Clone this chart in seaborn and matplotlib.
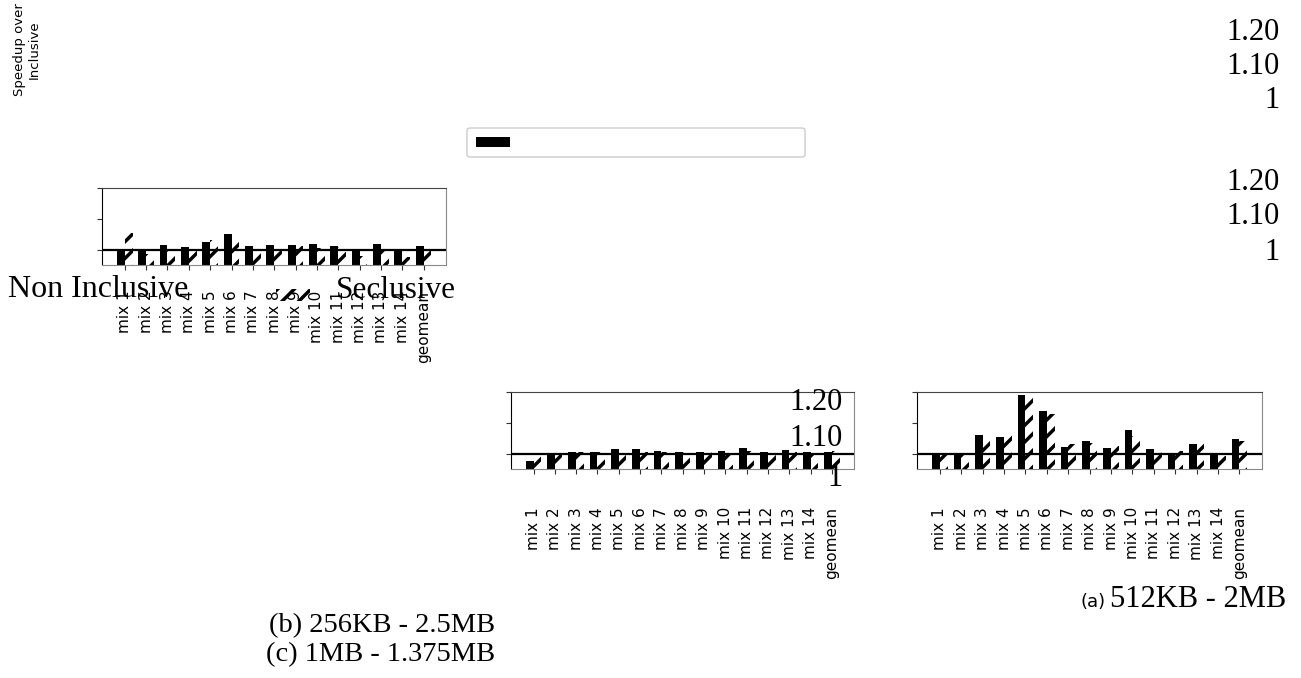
"""
speedup over inclusive, three cache configs
"""

import matplotlib.pyplot as plt
import pandas as pd
import seaborn as sns
from matplotlib.patches import FancyBboxPatch, Rectangle

# data
mixes = [f"mix {i}" for i in range(1, 15)] + ["geomean"]
configs = ["Non Inclusive", "Seclusive"]

leftNonInclusive = [1.0, 1.0, 1.014, 1.008, 1.024, 1.05, 1.012, 1.016, 1.016, 1.019, 1.013, 1.0, 1.019, 1.0, 1.012]
leftSeclusive = [1.053, 0.985, 1.0, 1.004, 1.03, 1.033, 1.0, 1.016, 1.013, 1.005, 1.01, 0.98, 1.0, 0.975, 1.015]

midNonInclusive = [0.976, 1.003, 1.006, 1.006, 1.015, 1.015, 1.009, 1.006, 1.006, 1.009, 1.017, 1.006, 1.012, 1.006, 1.006]
midSeclusive = [1.006, 0.998, 1.005, 1.006, 1.006, 1.006, 1.006, 1.006, 1.008, 1.003, 1.008, 1.003, 1.006, 1.0, 1.008]

rightNonInclusive = [1.0, 1.003, 1.06, 1.054, 1.19, 1.138, 1.021, 1.041, 1.019, 1.076, 1.016, 1.0, 1.032, 1.0, 1.046]
rightSeclusive = [1.003, 0.998, 1.05, 1.062, 1.18, 1.13, 1.03, 1.035, 1.025, 1.057, 1.01, 1.008, 1.03, 0.992, 1.04]

yTicks = [1.0, 1.1, 1.2]
sideLabels = ["1.20", "1.10", "1"]

W, H = 1301, 678
SERIF = "Liberation Serif"


def px(x, y):
    return x / W, 1 - y / H


def frame(nonIncl, secl):
    return pd.DataFrame(
        {
            "mix": mixes * 2,
            "config": [configs[0]] * len(mixes) + [configs[1]] * len(mixes),
            "speedup": list(nonIncl) + list(secl),
        }
    )


plt.rcParams["hatch.linewidth"] = 2.5
fig = plt.figure(figsize=(W / 100, H / 100), dpi=100)


def panel(rect, nonIncl, secl, labelPad):
    ax = fig.add_axes(rect)
    sns.barplot(
        data=frame(nonIncl, secl),
        x="mix",
        y="speedup",
        hue="config",
        hue_order=configs,
        palette=["black", "white"],
        saturation=1,
        width=0.72,
        errorbar=None,
        linewidth=0,
        edgecolor="black",
        legend=False,
        ax=ax,
    )
    for bar in ax.containers[1]:
        bar.set_hatch("//")
    ax.axhline(1.0, color="black", lw=1.6)
    ax.set_xlim(-1.07, 15.04)
    ax.set_ylim(0.95, 1.2)
    ax.set_yticks(yTicks)
    ax.set_yticklabels([])
    ax.set_xlabel("")
    ax.set_ylabel("")
    ax.tick_params(axis="x", rotation=90, labelsize=11, length=3.5, pad=labelPad, color="#333333")
    ax.tick_params(axis="y", length=3.5, color="#333333")
    ax.spines["left"].set_color("black")
    ax.spines["top"].set_color("#444444")
    ax.spines["right"].set_color("#888888")
    ax.spines["bottom"].set_color("#888888")
    return ax


def rect(x0, y0, x1, y1):
    return [x0 / W, 1 - y1 / H, (x1 - x0) / W, (y1 - y0) / H]


panel(rect(102, 188, 445.7, 265), leftNonInclusive, leftSeclusive, 15)
panel(rect(510.7, 392, 854, 469), midNonInclusive, midSeclusive, 24)
panel(rect(917, 392, 1261.7, 469), rightNonInclusive, rightSeclusive, 24)

# stray texts
fig.text(*px(27, 50), "Speedup over\nInclusive", rotation=90, ha="center", va="center",
         fontsize=9.5, linespacing=1.1)
for y, s in zip([33, 67, 101], sideLabels):
    fig.text(*px(1280, y), s, ha="right", va="center", family=SERIF, fontsize=22)
for y, s in zip([182, 217, 252], sideLabels):
    fig.text(*px(1280, y), s, ha="right", va="center", family=SERIF, fontsize=22)
for y, s in zip([402, 438, 478], sideLabels):
    fig.text(*px(843, y), s, ha="right", va="center", family=SERIF, fontsize=22)

# broken legend
fig.add_artist(FancyBboxPatch(px(467, 157), 338 / W, 29 / H, boxstyle="round,pad=0,rounding_size=0.003",
                              transform=fig.transFigure, facecolor="white", edgecolor="#cccccc", lw=1))
fig.add_artist(Rectangle(px(476, 147), 34 / W, 10 / H, transform=fig.transFigure,
                         facecolor="black", lw=0))
fig.add_artist(Rectangle(px(276, 301), 34 / W, 12 / H, transform=fig.transFigure,
                         facecolor="none", edgecolor="black", lw=0, hatch="//"))
fig.text(*px(8, 297), "Non Inclusive", ha="left", va="baseline", family=SERIF, fontsize=23)
fig.text(*px(336, 298), "Seclusive", ha="left", va="baseline", family=SERIF, fontsize=22.5)

# captions
fig.text(*px(1106, 607), "(a)", ha="right", va="baseline", fontsize=13)
fig.text(*px(1286, 607), "512KB - 2MB", ha="right", va="baseline", family=SERIF, fontsize=22)
fig.text(*px(495, 632), "(b) 256KB - 2.5MB", ha="right", va="baseline", family=SERIF, fontsize=20.5)
fig.text(*px(495, 661), "(c) 1MB - 1.375MB", ha="right", va="baseline", family=SERIF, fontsize=20.5)

fig.savefig("out.png", dpi=100)
